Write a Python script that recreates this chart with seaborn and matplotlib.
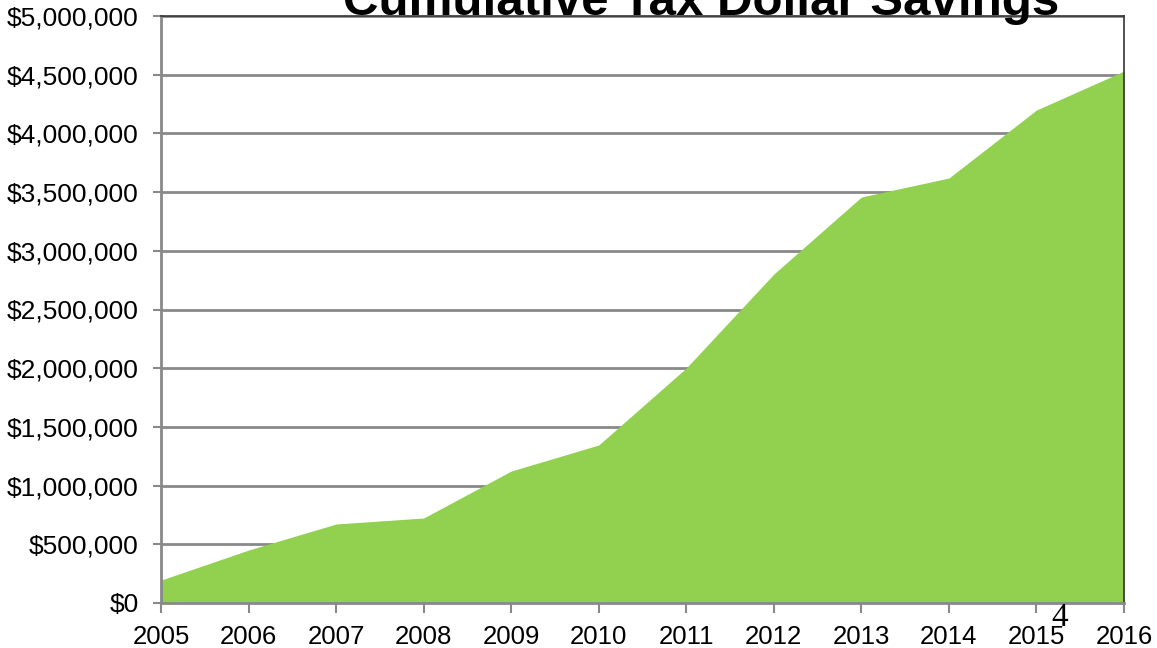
import matplotlib
matplotlib.use("Agg")
import matplotlib.pyplot as plt
import matplotlib.ticker as mticker
import seaborn as sns
import pandas as pd

years = [2005, 2006, 2007, 2008, 2009, 2010, 2011, 2012, 2013, 2014, 2015, 2016]
savings = [195000, 451000, 673000, 724000, 1124000, 1346000, 2002000,
           2802000, 3458000, 3620000, 4199000, 4531000]
title_text = "Cumulative Tax Dollar Savings"
page_number = "4"

df = pd.DataFrame({"year": years, "savings": savings})

sns.set_style("white")
plt.rcParams['font.family'] = ['Liberation Sans', 'DejaVu Sans']

fig = plt.figure(figsize=(11.57, 6.48), dpi=100)
ax = fig.add_axes([161/1157, 1-603/648, (1124-161)/1157, (603-16)/648])

green = "#92D050"
grey = "#898989"

sns.lineplot(data=df, x="year", y="savings", ax=ax, color=green, linewidth=0)
ax.fill_between(df["year"], 0, df["savings"], color=green, linewidth=0, zorder=2)

ax.set_xlim(2005, 2016)
ax.set_ylim(0, 5000000)
ax.set_xticks(years)
ax.set_yticks(range(0, 5000001, 500000))
ax.yaxis.set_major_formatter(mticker.FuncFormatter(lambda v, p: f"${int(v):,}"))
ax.set_xlabel("")
ax.set_ylabel("")

ax.grid(axis="y", color=grey, linewidth=2)
ax.set_axisbelow(True)

for s in ["left", "bottom"]:
    ax.spines[s].set_color(grey)
    ax.spines[s].set_linewidth(2)
    ax.spines[s].set_zorder(3)
for s in ["top", "right"]:
    ax.spines[s].set_color("#333333")
    ax.spines[s].set_linewidth(1.2)
    ax.spines[s].set_zorder(3)

ax.tick_params(axis="y", which="both", left=True, length=6, width=1.5, color=grey,
               labelsize=19, pad=10, labelcolor="black")
ax.tick_params(axis="x", which="both", bottom=True, length=7, width=1.5, color=grey,
               labelsize=18.5, pad=9, labelcolor="black")

fig.text(701/1157, 1-15/648, title_text, ha="center", va="baseline",
         fontsize=35.5, fontweight="bold", color="black", zorder=1)
fig.text(1060/1157, 1-626/648, page_number, ha="center", va="baseline",
         fontsize=24, family=["Liberation Serif", "DejaVu Serif"], color="black")

fig.savefig("out.png", dpi=100)
